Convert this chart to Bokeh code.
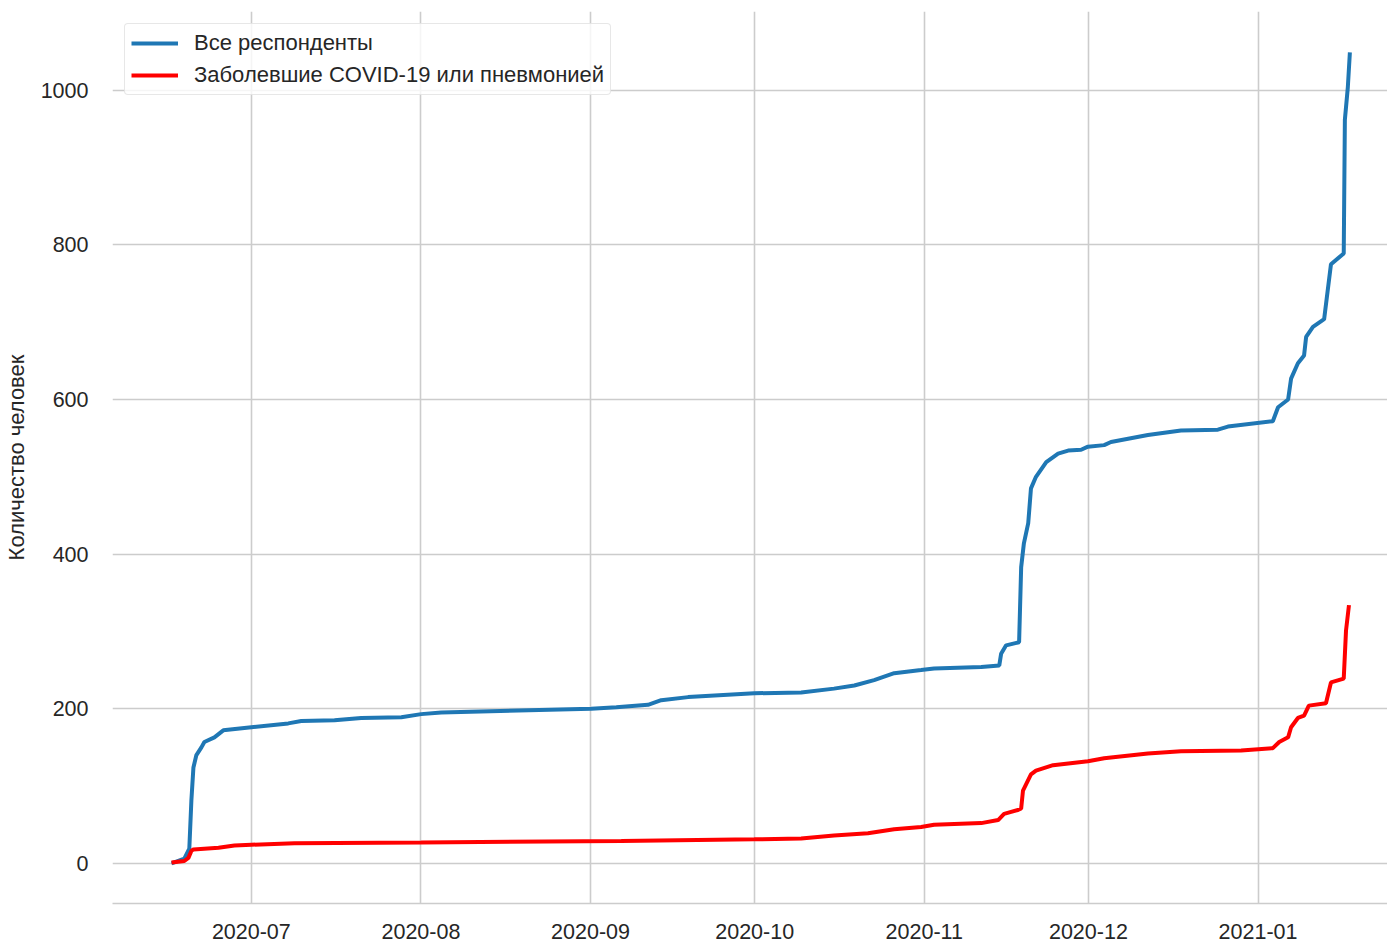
import pandas as pd
from bokeh.plotting import figure
from bokeh.models import Range1d, DatetimeTickFormatter, MonthsTicker, FixedTicker, Legend, LegendItem
from bokeh.embed import file_html
from bokeh.resources import INLINE

# ---- data ----
all_dates = [
    "2020-06-16 10:00", "2020-06-18 18:00", "2020-06-19 16:00", "2020-06-20 01:00", "2020-06-20 10:00",
    "2020-06-20 23:00", "2020-06-21 21:00", "2020-06-22 10:00", "2020-06-24 06:00", "2020-06-25 21:00",
    "2020-07-01 00:00", "2020-07-07 18:00", "2020-07-10 03:00", "2020-07-16 05:00", "2020-07-21 02:00",
    "2020-07-28 10:00", "2020-08-01 01:00", "2020-08-04 17:00", "2020-09-01 03:00", "2020-09-05 17:00",
    "2020-09-11 12:00", "2020-09-13 22:00", "2020-09-18 20:00", "2020-09-30 22:00", "2020-10-09 12:00",
    "2020-10-15 12:00", "2020-10-19 05:00", "2020-10-22 20:00", "2020-10-26 12:00", "2020-10-31 10:00",
    "2020-11-02 19:00", "2020-11-11 10:00", "2020-11-14 17:00", "2020-11-15 01:00", "2020-11-15 23:00",
    "2020-11-18 08:00", "2020-11-18 17:00", "2020-11-19 05:00", "2020-11-20 00:00", "2020-11-20 12:00",
    "2020-11-21 10:00", "2020-11-23 07:00", "2020-11-25 11:00", "2020-11-27 07:00", "2020-11-29 16:00",
    "2020-11-30 22:00", "2020-12-03 21:00", "2020-12-05 03:00", "2020-12-11 21:00", "2020-12-17 22:00",
    "2020-12-24 16:00", "2020-12-26 12:00", "2021-01-03 17:00", "2021-01-04 16:00", "2021-01-06 12:00",
    "2021-01-07 01:00", "2021-01-08 07:00", "2021-01-09 10:00", "2021-01-09 19:00", "2021-01-11 01:00",
    "2021-01-13 02:00", "2021-01-14 08:00", "2021-01-16 16:00", "2021-01-16 21:00", "2021-01-17 10:00",
    "2021-01-17 19:00",
]
all_values = [
    0, 6, 19, 81, 124,
    140, 150, 157, 163, 172,
    176, 181, 184, 185, 188,
    189, 193, 195, 200, 202,
    205, 211, 215, 220, 221,
    226, 230, 237, 246, 250,
    252, 254, 256, 271, 282,
    286, 383, 414, 440, 485,
    500, 519, 530, 534, 535,
    539, 541, 545, 554, 560,
    561, 565, 572, 590, 600,
    627, 647, 657, 681, 694,
    704, 775, 789, 962, 1004,
    1049,
]

ill_dates = [
    "2020-06-16 10:00", "2020-06-18 18:00", "2020-06-19 12:00", "2020-06-20 01:00", "2020-06-20 10:00",
    "2020-06-25 00:00", "2020-06-27 22:00", "2020-07-01 00:00", "2020-07-08 21:00", "2020-08-01 01:00",
    "2020-09-06 15:00", "2020-09-30 22:00", "2020-10-09 12:00", "2020-10-15 12:00", "2020-10-21 17:00",
    "2020-10-26 12:00", "2020-10-31 10:00", "2020-11-02 19:00", "2020-11-11 10:00", "2020-11-14 12:00",
    "2020-11-15 14:00", "2020-11-18 03:00", "2020-11-18 17:00", "2020-11-19 01:00", "2020-11-20 12:00",
    "2020-11-21 10:00", "2020-11-24 13:00", "2020-11-30 22:00", "2020-12-03 21:00", "2020-12-05 03:00",
    "2020-12-11 21:00", "2020-12-17 22:00", "2020-12-28 22:00", "2021-01-03 17:00", "2021-01-04 21:00",
    "2021-01-06 12:00", "2021-01-07 01:00", "2021-01-08 07:00", "2021-01-09 10:00", "2021-01-10 07:00",
    "2021-01-13 10:00", "2021-01-14 08:00", "2021-01-16 16:00", "2021-01-17 02:00", "2021-01-17 15:00",
]
ill_values = [
    1, 3, 7, 16, 18,
    20, 23, 24, 26, 27,
    29, 31, 32, 36, 39,
    44, 47, 50, 52, 56,
    64, 69, 71, 94, 115,
    120, 127, 132, 136, 137,
    142, 145, 146, 149, 157,
    163, 176, 188, 191, 204,
    207, 234, 239, 301, 334,
]

series_labels = ["Все респонденты", "Заболевшие COVID-19 или пневмонией"]
y_axis_title = "Количество человек"
y_ticks = [0, 200, 400, 600, 800, 1000]

# ---- figure ----
FONT = "Liberation Sans"
TXT = "#262626"
GRID = "#cccccc"

p = figure(
    width=1387, height=942,
    x_axis_type="datetime",
    x_range=Range1d(pd.Timestamp("2020-06-05 15:00"), pd.Timestamp("2021-01-24 16:00")),
    y_range=Range1d(-52, 1102),
    output_backend="svg", toolbar_location=None,
    min_border_left=110, min_border_right=0, min_border_top=11, min_border_bottom=39,
    background_fill_color="white", border_fill_color="white",
)
p.outline_line_color = None

r1 = p.line(pd.to_datetime(all_dates), all_values, line_color="#1f77b4", line_width=4)
r2 = p.line(pd.to_datetime(ill_dates), ill_values, line_color="#ff0000", line_width=4)

# axes
p.xaxis.ticker = MonthsTicker(months=list(range(1, 13)))
p.xaxis.formatter = DatetimeTickFormatter(months="%Y-%m", days="%Y-%m", years="%Y-%m")
p.yaxis.ticker = FixedTicker(ticks=y_ticks)

for ax in (p.xaxis[0], p.yaxis[0]):
    ax.major_tick_line_color = None
    ax.minor_tick_line_color = None
    ax.major_label_text_font = FONT
    ax.major_label_text_font_size = "21.5px"
    ax.major_label_text_color = TXT

p.xaxis.axis_line_color = GRID
p.xaxis.axis_line_width = 1.6
p.xaxis.major_label_standoff = 14
p.yaxis.axis_line_color = None
p.yaxis.major_label_standoff = 18
p.yaxis.axis_label = y_axis_title
p.yaxis.axis_label_text_font = FONT
p.yaxis.axis_label_text_font_size = "22px"
p.yaxis.axis_label_text_font_style = "normal"
p.yaxis.axis_label_text_color = TXT
p.yaxis.axis_label_standoff = 9

p.xgrid.grid_line_color = GRID
p.xgrid.grid_line_width = 1.6
p.ygrid.grid_line_color = GRID
p.ygrid.grid_line_width = 1.6

legend = Legend(items=[LegendItem(label=series_labels[0], renderers=[r1]),
                       LegendItem(label=series_labels[1], renderers=[r2])],
                location="top_left")
legend.margin = 12
legend.padding = 6
legend.spacing = 6
legend.glyph_width = 47
legend.glyph_height = 26
legend.label_standoff = 16
legend.label_text_font = FONT
legend.label_text_font_size = "22px"
legend.label_text_color = TXT
legend.border_line_color = "#d0d0d0"
legend.border_line_width = 1.2
legend.border_radius = 4
legend.background_fill_color = "white"
legend.background_fill_alpha = 0.8
p.add_layout(legend)

open("out.html", "w").write(file_html(p, INLINE))
